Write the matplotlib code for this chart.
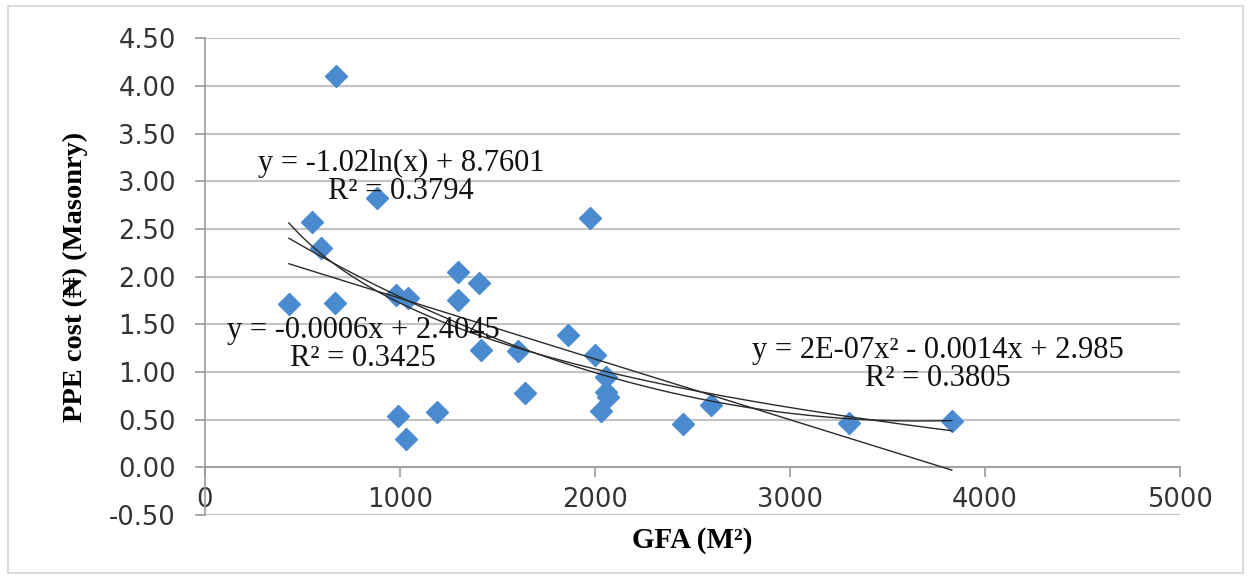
import numpy as np
import matplotlib
matplotlib.use("Agg")
import matplotlib.pyplot as plt
from matplotlib.patches import Rectangle

# ---- data ----
gfa = [672, 882, 549, 595, 430, 665, 980, 1040, 1295, 1295, 1405, 1416, 1604, 1640,
       990, 1030, 1188, 1861, 1974, 2000, 2055, 2055, 2065, 2030, 2450, 2595, 3300, 3830]
ppe = [4.10, 2.83, 2.57, 2.30, 1.71, 1.72, 1.81, 1.78, 2.05, 1.76, 1.93, 1.23, 1.22, 0.78,
       0.54, 0.30, 0.58, 1.39, 2.61, 1.18, 0.95, 0.79, 0.74, 0.59, 0.45, 0.65, 0.47, 0.49]

y_ticks = [-0.5, 0.0, 0.5, 1.0, 1.5, 2.0, 2.5, 3.0, 3.5, 4.0, 4.5]
x_ticks = [0, 1000, 2000, 3000, 4000, 5000]

eq_log = ["y = -1.02ln(x) + 8.7601", "R² = 0.3794"]
eq_lin = ["y = -0.0006x + 2.4045", "R² = 0.3425"]
eq_quad = ["y = 2E-07x² - 0.0014x + 2.985", "R² = 0.3805"]

x = np.array(gfa, dtype=float)
y = np.array(ppe, dtype=float)

fig = plt.figure(figsize=(12.5, 5.8), dpi=100)
ax = fig.add_axes([0.164, 0.112, 0.780, 0.822])

# frame around chart area
fig.patches.append(Rectangle((0.006, 0.012), 0.988, 0.978, transform=fig.transFigure,
                             fill=False, edgecolor="#d4d4d4", linewidth=1.2))

ax.set_xlim(0, 5000)
ax.set_ylim(-0.5, 4.5)
ax.set_yticks(y_ticks)
ax.set_yticklabels([f"{v:.2f}" for v in y_ticks])
ax.set_xticks(x_ticks)
ax.set_xticklabels([str(v) for v in x_ticks])

ax.grid(axis="y", color="#c4c4c4", linewidth=1.6, zorder=0)
ax.set_axisbelow(True)

for s in ["top", "right"]:
    ax.spines[s].set_visible(False)
ax.spines["bottom"].set_position(("data", 0))
ax.spines["bottom"].set_color("#9a9a9a")
ax.spines["left"].set_color("#9a9a9a")
ax.spines["bottom"].set_linewidth(1.2)
ax.spines["left"].set_linewidth(1.2)

ax.tick_params(axis="y", direction="out", length=7, width=1.2, color="#9a9a9a",
               labelsize=18.5, pad=14, labelcolor="#333333")
ax.tick_params(axis="x", direction="out", length=7, width=1.2, color="#9a9a9a",
               labelsize=18.5, pad=7, labelcolor="#333333")
for lab in ax.get_xticklabels() + ax.get_yticklabels():
    lab.set_fontfamily("DejaVu Sans")

# scatter
ax.plot(x, y, linestyle="none", marker="D", markersize=11, color="#4a8bcf",
        markeredgecolor="#4a8bcf", zorder=3)

# trend lines fitted to the data
xs = np.linspace(x.min(), x.max(), 300)
p_lin = np.polyfit(x, y, 1)
p_quad = np.polyfit(x, y, 2)
p_log = np.polyfit(np.log(x), y, 1)
for yy in (np.polyval(p_lin, xs), np.polyval(p_quad, xs), np.polyval(p_log, np.log(xs))):
    ax.plot(xs, yy, color="#2a2a2a", linewidth=1.0, zorder=4)

serif = ["Liberation Serif", "DejaVu Serif"]
def eq(xc, yc, lines):
    ax.text(xc, yc, "\n".join(lines), ha="center", va="center", fontsize=22,
            family=serif, color="#111111", linespacing=0.95, zorder=5)

eq(1005, 3.04, eq_log)
eq(810, 1.29, eq_lin)
eq(3760, 1.08, eq_quad)

ax.set_ylabel("PPE cost (₦) (Masonry)", fontsize=20.5, fontweight="bold", family=serif)
ax.yaxis.set_label_coords(-0.12, 0.5)
ax.set_xlabel("GFA (M²)", fontsize=21, fontweight="bold", family=serif)
ax.xaxis.set_label_coords(0.5, -0.025)

fig.savefig("out.png", dpi=100, facecolor="white")
